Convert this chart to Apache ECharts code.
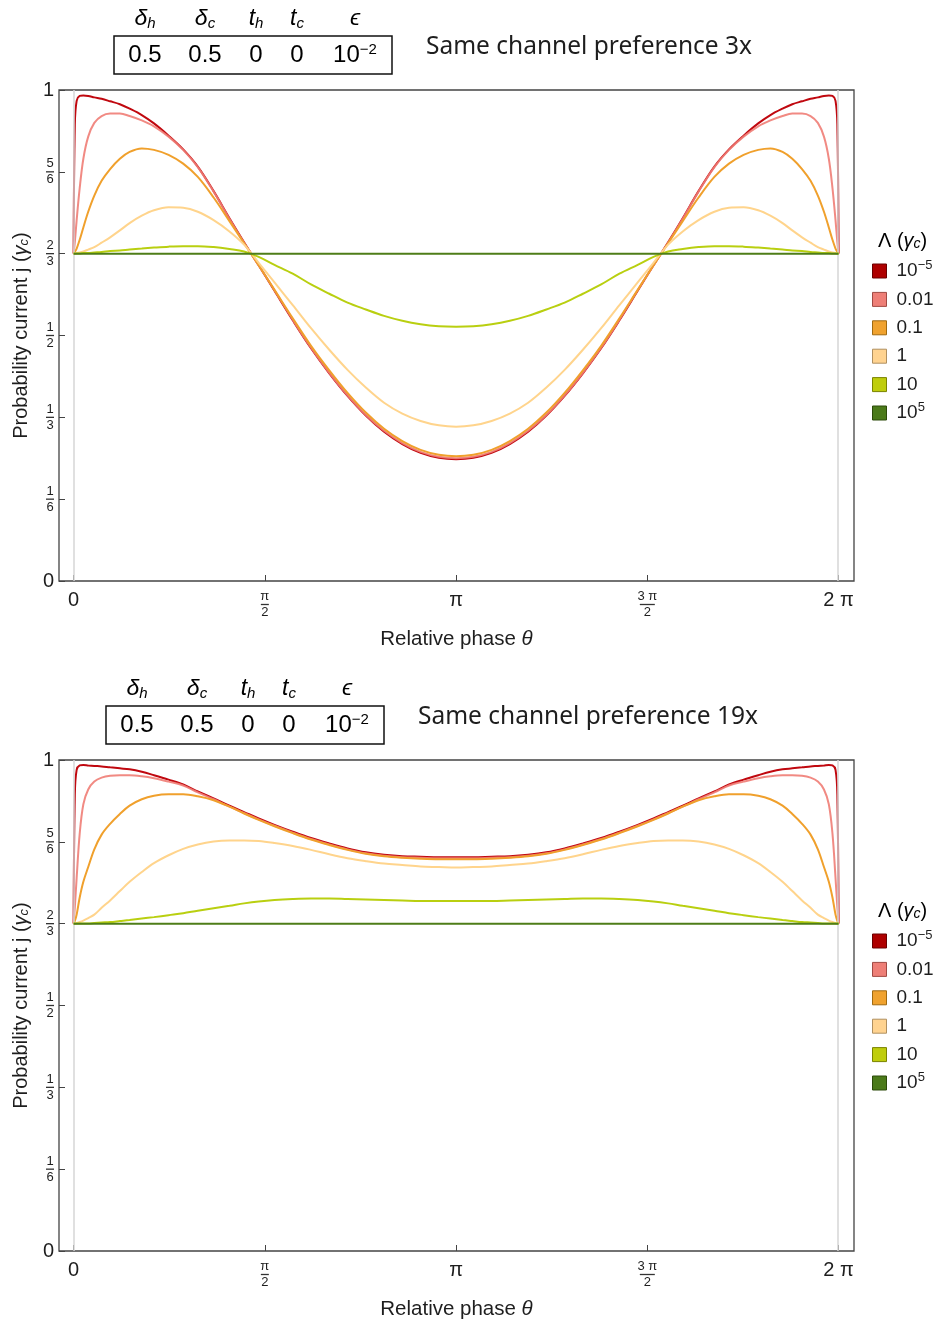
<!DOCTYPE html>
<html><head><meta charset="utf-8">
<script src="https://cdn.jsdelivr.net/npm/echarts@6/dist/echarts.min.js"></script>
<style>html,body{margin:0;padding:0;background:#fff}#c{width:942px;height:1323px}</style>
</head><body><div id="c"></div>
<script>
// ---------------- DATA ----------------
const theta = [0, 0.01, 0.025, 0.05, 0.08, 0.12, 0.17, 0.23, 0.30, 0.38, 0.46, 0.56, 0.66, 0.78, 0.90, 1.02, 1.15, 1.28, 1.40, 1.52, 1.65, 1.80, 1.95, 2.10, 2.25, 2.40, 2.55, 2.70, 2.85, 3.00, 3.1416,
  3.2832, 3.4332, 3.5832, 3.7332, 3.8832, 4.0332, 4.1832, 4.3332, 4.4832, 4.6332, 4.7632, 4.8832, 5.0032, 5.1332, 5.2632, 5.3832, 5.5032, 5.6232, 5.7232, 5.8232, 5.9032, 5.9832, 6.0532, 6.1132, 6.1632, 6.2032, 6.2332, 6.2582, 6.2732, 6.2832];
const thetaFlat = [0, 6.2832];

const lambdaNames = ['1e-5', '0.01', '0.1', '1', '10', '1e5'];

// Chart 1: same channel preference 3x
const p3_L1em5 = [0.667,0.93,0.978,0.988,0.989,0.988,0.985,0.982,0.977,0.971,0.962,0.949,0.932,0.907,0.879,0.844,0.794,0.739,0.690,0.643,0.591,0.531,0.474,0.423,0.377,0.337,0.304,0.279,0.261,0.251,0.248,
  0.251,0.261,0.279,0.304,0.337,0.377,0.423,0.474,0.531,0.591,0.643,0.690,0.739,0.794,0.844,0.879,0.907,0.932,0.949,0.962,0.971,0.977,0.982,0.985,0.988,0.989,0.988,0.978,0.93,0.667];
const p3_L001 = [0.667,0.69,0.735,0.800,0.860,0.905,0.933,0.947,0.952,0.952,0.947,0.938,0.926,0.905,0.878,0.843,0.793,0.738,0.689,0.643,0.592,0.532,0.475,0.424,0.378,0.338,0.306,0.281,0.263,0.253,0.250,
  0.253,0.263,0.281,0.306,0.338,0.378,0.424,0.475,0.532,0.592,0.643,0.689,0.738,0.793,0.843,0.878,0.905,0.926,0.938,0.947,0.952,0.952,0.947,0.933,0.905,0.860,0.800,0.735,0.69,0.667];
const p3_L01 = [0.667,0.670,0.677,0.695,0.720,0.752,0.785,0.815,0.839,0.860,0.874,0.881,0.878,0.868,0.850,0.823,0.781,0.733,0.688,0.643,0.593,0.535,0.479,0.429,0.383,0.343,0.310,0.285,0.267,0.257,0.254,
  0.257,0.267,0.285,0.310,0.343,0.383,0.429,0.479,0.535,0.593,0.643,0.688,0.733,0.781,0.823,0.850,0.868,0.878,0.881,0.874,0.860,0.839,0.815,0.785,0.752,0.720,0.695,0.677,0.670,0.667];
const p3_L1 = [0.667,0.667,0.668,0.669,0.671,0.675,0.680,0.689,0.700,0.714,0.729,0.744,0.755,0.761,0.760,0.752,0.735,0.712,0.685,0.648,0.608,0.562,0.515,0.471,0.430,0.394,0.363,0.341,0.326,0.317,0.314,
  0.317,0.326,0.341,0.363,0.394,0.430,0.471,0.515,0.562,0.608,0.648,0.685,0.712,0.735,0.752,0.760,0.761,0.755,0.744,0.729,0.714,0.700,0.689,0.680,0.675,0.671,0.669,0.668,0.667,0.667];
const p3_L10 = [0.667,0.667,0.667,0.667,0.668,0.668,0.669,0.670,0.672,0.673,0.675,0.677,0.679,0.681,0.682,0.682,0.680,0.676,0.671,0.660,0.644,0.626,0.604,0.585,0.567,0.553,0.540,0.530,0.523,0.519,0.518,
  0.519,0.523,0.530,0.540,0.553,0.567,0.585,0.604,0.626,0.644,0.660,0.671,0.676,0.680,0.682,0.682,0.681,0.679,0.677,0.675,0.673,0.672,0.670,0.669,0.668,0.668,0.667,0.667,0.667,0.667];
const p3_L1e5 = [0.6667, 0.6667];

// Chart 2: same channel preference 19x
const p19_L1em5 = [0.667,0.93,0.980,0.989,0.990,0.989,0.988,0.987,0.985,0.983,0.981,0.976,0.969,0.960,0.950,0.936,0.922,0.907,0.894,0.881,0.868,0.854,0.841,0.830,0.820,0.812,0.807,0.804,0.803,0.802,0.802,
  0.802,0.803,0.804,0.807,0.812,0.820,0.830,0.841,0.854,0.868,0.881,0.894,0.907,0.922,0.936,0.950,0.960,0.969,0.976,0.981,0.983,0.985,0.987,0.988,0.989,0.990,0.989,0.980,0.93,0.667];
const p19_L001 = [0.667,0.70,0.76,0.85,0.91,0.94,0.956,0.964,0.968,0.969,0.969,0.967,0.963,0.956,0.948,0.934,0.920,0.905,0.892,0.879,0.866,0.852,0.839,0.828,0.818,0.810,0.805,0.802,0.801,0.800,0.800,
  0.800,0.801,0.802,0.805,0.810,0.818,0.828,0.839,0.852,0.866,0.879,0.892,0.905,0.920,0.934,0.948,0.956,0.963,0.967,0.969,0.969,0.968,0.964,0.956,0.94,0.91,0.85,0.76,0.70,0.667];
const p19_L01 = [0.667,0.672,0.685,0.720,0.752,0.782,0.818,0.848,0.870,0.890,0.907,0.920,0.927,0.930,0.930,0.926,0.918,0.905,0.891,0.878,0.865,0.851,0.838,0.827,0.817,0.809,0.804,0.801,0.799,0.798,0.798,
  0.798,0.799,0.801,0.804,0.809,0.817,0.827,0.838,0.851,0.865,0.878,0.891,0.905,0.918,0.926,0.930,0.930,0.927,0.920,0.907,0.890,0.870,0.848,0.818,0.782,0.752,0.720,0.685,0.672,0.667];
const p19_L1 = [0.667,0.667,0.668,0.670,0.673,0.678,0.685,0.699,0.714,0.733,0.752,0.772,0.790,0.806,0.819,0.828,0.834,0.836,0.836,0.835,0.831,0.825,0.817,0.808,0.800,0.794,0.789,0.786,0.783,0.782,0.781,
  0.782,0.783,0.786,0.789,0.794,0.800,0.808,0.817,0.825,0.831,0.835,0.836,0.836,0.834,0.828,0.819,0.806,0.790,0.772,0.752,0.733,0.714,0.699,0.685,0.678,0.673,0.670,0.668,0.667,0.667];
const p19_L10 = [0.667,0.667,0.667,0.667,0.667,0.667,0.668,0.669,0.670,0.672,0.674,0.677,0.680,0.684,0.688,0.693,0.698,0.703,0.708,0.712,0.715,0.717,0.718,0.718,0.717,0.716,0.715,0.714,0.713,0.713,0.713,
  0.713,0.713,0.714,0.715,0.716,0.717,0.718,0.718,0.717,0.715,0.712,0.708,0.703,0.698,0.693,0.688,0.684,0.680,0.677,0.674,0.672,0.670,0.669,0.668,0.667,0.667,0.667,0.667,0.667,0.667];
const p19_L1e5 = [0.6667, 0.6667];

// Ticks
const xTickValues = [0, Math.PI / 2, Math.PI, 3 * Math.PI / 2, 2 * Math.PI];
const xTickLabels = ['0', 'π/2', 'π', '3 π/2', '2 π'];
const yTickValues = [0, 1 / 6, 1 / 3, 1 / 2, 2 / 3, 5 / 6, 1];
const yTickLabels = ['0', '1/6', '1/3', '1/2', '2/3', '5/6', '1'];

// ---------------- STYLE ----------------
const FN = "'Liberation Sans',Arial,sans-serif";
const FS = "'Liberation Sans',Arial,sans-serif";
const colors = ['#c0080f', '#ef7d76', '#f0a02c', '#ffd48c', '#b9cf10', '#4e7d18'];
const swatch = ['#ae0000', '#ee7f77', '#f0a22e', '#ffd390', '#bfcd0c', '#4b7a1a'];
const swatchBorder = ['#6a0000', '#a04a44', '#a06a10', '#b09060', '#7a8400', '#2c4a0a'];
const TXT = '#1e1e1e';

function fracLabel(lbl) {
  if (lbl.indexOf('/') >= 0) {
    const [n, d] = lbl.split('/');
    return '{n|' + n + '}\n{' + (n.length > 1 ? 'barw' : 'bar') + '| }\n{d|' + d + '}';
  }
  return '{big|' + lbl + '}';
}
const tickRich = {
  big: { fontSize: 20, fontFamily: FN, color: TXT, align: 'center', lineHeight: 20 },
  n: { fontSize: 13, fontFamily: FN, color: TXT, align: 'center', lineHeight: 13 },
  d: { fontSize: 13, fontFamily: FN, color: TXT, align: 'center', lineHeight: 13 },
  bar: { width: 8, height: 1.3, lineHeight: 3, fontSize: 1, backgroundColor: '#333', align: 'center' },
  barw: { width: 15, height: 1.3, lineHeight: 3, fontSize: 1, backgroundColor: '#333', align: 'center' }
};
function findLbl(vals, lbls, v) {
  for (let i = 0; i < vals.length; i++) if (Math.abs(vals[i] - v) < 1e-6) return lbls[i];
  return '';
}

function xAxisCfg(g) {
  return {
    type: 'value', gridIndex: g, min: -0.12, max: 6.41,
    axisLine: { show: false, onZero: false }, splitLine: { show: false },
    axisTick: { show: true, inside: true, length: 6, lineStyle: { color: '#444', width: 1 }, customValues: xTickValues },
    axisLabel: { customValues: xTickValues, margin: 9, formatter: v => fracLabel(findLbl(xTickValues, xTickLabels, v)), rich: tickRich },
    name: '{r|Relative phase }{i|θ}', nameLocation: 'middle', nameGap: 48,
    nameTextStyle: { rich: { r: { fontFamily: FN, fontSize: 20.5, color: TXT }, i: { fontFamily: FN, fontSize: 20.5, fontStyle: 'italic', color: TXT } } }
  };
}
function yAxisCfg(g) {
  return {
    type: 'value', gridIndex: g, min: 0, max: 1,
    axisLine: { show: false, onZero: false }, splitLine: { show: false },
    axisTick: { show: true, inside: true, length: 6, lineStyle: { color: '#444', width: 1 }, customValues: yTickValues },
    axisLabel: { customValues: yTickValues, margin: 5, formatter: v => fracLabel(findLbl(yTickValues, yTickLabels, v)), rich: tickRich },
    name: '{r|Probability current j (}{g|γ}{s|c}{r|)}', nameLocation: 'middle', nameGap: 28,
    nameTextStyle: { rich: {
      r: { fontFamily: FN, fontSize: 20, color: TXT },
      g: { fontFamily: FN, fontSize: 20, color: TXT, fontStyle: 'italic' },
      s: { fontFamily: FN, fontSize: 13, color: TXT, fontStyle: 'italic', verticalAlign: 'bottom', padding: [6, 0, 0, 0] }
    } }
  };
}

function legendFmt(name) {
  if (name === '1e-5') return '{b|10}{s|−5}';
  if (name === '1e5') return '{b|10}{s|5}';
  return '{b|' + name + '}{s| }';
}
function legendCfg(topPx) {
  return {
    orient: 'vertical', left: 872, top: topPx, padding: 0, itemWidth: 14, itemHeight: 14, itemGap: 3.4, icon: 'rect',
    selectedMode: false,
    data: lambdaNames.map((n, i) => ({ name: n, itemStyle: { color: swatch[i], borderColor: swatchBorder[i], borderWidth: 1 } })),
    formatter: legendFmt,
    textStyle: { padding: [0, 0, 0, 5], rich: {
      b: { fontFamily: FS, fontSize: 19, color: TXT, lineHeight: 24 },
      s: { fontFamily: FS, fontSize: 13, color: TXT, lineHeight: 12, verticalAlign: 'top', padding: [0, 0, 12, 0] }
    } }
  };
}

const chartData = [
  [p3_L1em5, p3_L001, p3_L01, p3_L1, p3_L10, p3_L1e5],
  [p19_L1em5, p19_L001, p19_L01, p19_L1, p19_L10, p19_L1e5]
];
const series = [];
chartData.forEach((set, g) => {
  series.push({
    type: 'line', xAxisIndex: g, yAxisIndex: g, data: [], z: 1, silent: true,
    markLine: { silent: true, symbol: 'none', label: { show: false }, animation: false,
      lineStyle: { color: '#d6d6d6', width: 1.5, type: 'solid' },
      data: [{ xAxis: xTickValues[0] }, { xAxis: xTickValues[4] }] }
  });
  set.forEach((vals, i) => {
    const xs = vals.length === theta.length ? theta : thetaFlat;
    series.push({
      name: lambdaNames[i], type: 'line', xAxisIndex: g, yAxisIndex: g, z: 2 + i,
      data: vals.map((v, k) => [xs[k], v]),
      showSymbol: false, smooth: 0.35, color: colors[i],
      lineStyle: { width: 2, color: colors[i], opacity: i === 1 ? 0.9 : 1 }, animation: false
    });
  });
});

function tableGraphics(dx, dy, pref) {
  const hx = [145, 205, 256, 297, 355];
  const headers = ['{i|δ}{s|h}', '{i|δ}{s|c}', '{i|t}{s|h}', '{i|t}{s|c}', '{i|ϵ}'];
  const vals = ['{v|0.5}', '{v|0.5}', '{v|0}', '{v|0}', '{v|10}{p|−2}'];
  const headRich = {
    i: { fontFamily: FS, fontSize: 23, fontStyle: 'italic', color: TXT },
    s: { fontFamily: FS, fontSize: 15, fontStyle: 'italic', color: TXT, verticalAlign: 'bottom', padding: [9, 0, 0, 0] }
  };
  const valRich = {
    v: { fontFamily: FS, fontSize: 24, color: TXT },
    p: { fontFamily: FS, fontSize: 15, color: TXT, verticalAlign: 'top', padding: [0, 0, 11, 0] }
  };
  const els = [];
  els.push({ type: 'rect', shape: { x: 114 + dx, y: 36 + dy, width: 278, height: 38 }, style: { fill: 'none', stroke: '#111', lineWidth: 1.5 } });
  hx.forEach((x, i) => {
    els.push({ type: 'text', x: x + dx, y: 19 + dy, style: { text: headers[i], rich: headRich, align: 'center', verticalAlign: 'middle' } });
    els.push({ type: 'text', x: x + dx, y: 55 + dy, style: { text: vals[i], rich: valRich, align: 'center', verticalAlign: 'middle' } });
  });
  els.push({ type: 'text', x: 426 + dx, y: 47 + dy, style: { text: 'Same channel preference ' + pref, fontFamily: "'Noto Sans','Open Sans',sans-serif", fontSize: 24.5, fill: TXT, align: 'left', verticalAlign: 'middle' } });
  // legend title
  els.push({ type: 'text', x: 878, y: 241 + dy, style: { text: '{r|Λ (}{g|γ}{s|c}{r|)}', align: 'left', verticalAlign: 'middle', rich: {
    r: { fontFamily: FS, fontSize: 20, color: TXT },
    g: { fontFamily: FS, fontSize: 20, fontStyle: 'italic', color: TXT },
    s: { fontFamily: FS, fontSize: 14, fontStyle: 'italic', color: TXT, verticalAlign: 'bottom', padding: [7, 0, 0, 0] }
  } } });
  return els;
}

const option = {
  backgroundColor: '#fff',
  animation: false,
  grid: [
    { left: 59, top: 90, width: 795, height: 491, show: true, borderColor: '#444', borderWidth: 1.3, backgroundColor: 'transparent' },
    { left: 59, top: 760, width: 795, height: 491, show: true, borderColor: '#444', borderWidth: 1.3, backgroundColor: 'transparent' }
  ],
  xAxis: [xAxisCfg(0), xAxisCfg(1)],
  yAxis: [yAxisCfg(0), yAxisCfg(1)],
  legend: [legendCfg(259), legendCfg(929)],
  series: series,
  graphic: tableGraphics(0, 0, '3x').concat(tableGraphics(-8, 670, '19x'))
};

const chart = echarts.init(document.getElementById('c'), null, { renderer: 'canvas' });
chart.setOption(option);
</script>
</body></html>
